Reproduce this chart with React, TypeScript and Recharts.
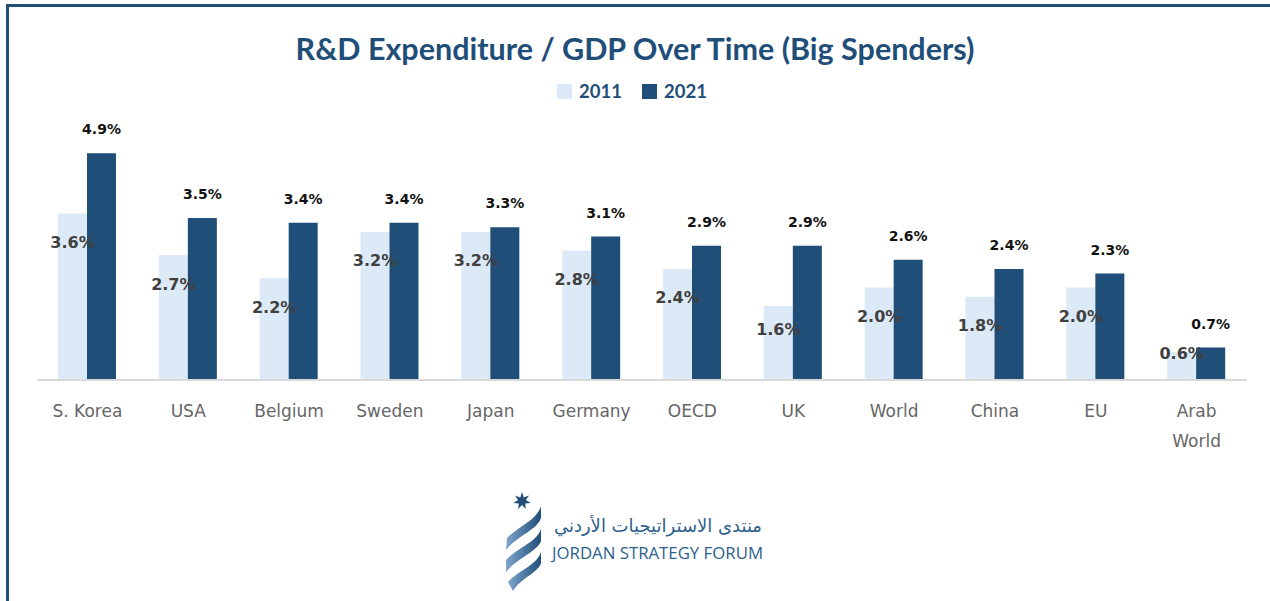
import { BarChart, Bar, XAxis, YAxis, LabelList } from "recharts";

const categories = ["S. Korea", "USA", "Belgium", "Sweden", "Japan", "Germany", "OECD", "UK", "World", "China", "EU", "Arab\nWorld"];
const values2011 = [3.6, 2.7, 2.2, 3.2, 3.2, 2.8, 2.4, 1.6, 2.0, 1.8, 2.0, 0.6];
const values2021 = [4.9, 3.5, 3.4, 3.4, 3.3, 3.1, 2.9, 2.9, 2.6, 2.4, 2.3, 0.7];
const seriesNames = ["2011", "2021"];

const data = categories.map((name, i) => ({ name, y2011: values2011[i], y2021: values2021[i] }));

const DARK = "#1f4e79";
const LIGHT = "#dce9f6";

const CatTick = ({ x, y, payload }: any) => {
  const lines = String(payload.value).split("\n");
  return (
    <text x={x} y={y} textAnchor="middle" fontFamily="DejaVu Sans" fontSize={17} fill="#666">
      {lines.map((l, i) => (
        <tspan key={i} x={x} dy={i === 0 ? 29 : 30}>
          {l}
        </tspan>
      ))}
    </text>
  );
};

// 2011 labels sit inside the bar, near its top
const InsideLabel = ({ x, y, width, height, value }: any) => (
  <text
    x={x + width / 2}
    y={y + Math.min(29, height / 2 - 13)}
    textAnchor="middle"
    dominantBaseline="central"
    fontFamily="DejaVu Sans"
    fontWeight="bold"
    fontSize={16}
    fill="#404040"
  >
    {Number(value).toFixed(1)}%
  </text>
);

const TopLabel = ({ x, y, width, value }: any) => (
  <text
    x={x + width / 2}
    y={y - 24}
    textAnchor="middle"
    dominantBaseline="central"
    fontFamily="DejaVu Sans"
    fontWeight="bold"
    fontSize={14}
    fill="#111"
  >
    {Number(value).toFixed(1)}%
  </text>
);

const Logo = () => (
  <svg width={300} height={110} style={{ position: "absolute", left: 495, top: 490 }}>
    <defs>
      <linearGradient id="rib" x1="0" y1="0" x2="1" y2="0">
        <stop offset="0%" stopColor="#7fa6cc" />
        <stop offset="100%" stopColor="#1f4e79" />
      </linearGradient>
    </defs>
    <polygon
      points={Array.from({ length: 14 }, (_, k) => {
        const r = k % 2 === 0 ? 9 : 4;
        const a = (Math.PI * k) / 7 - Math.PI / 2;
        return `${27 + r * Math.cos(a)},${11 + r * Math.sin(a)}`;
      }).join(" ")}
      fill={DARK}
    />
    <path d="M46 16 C42 30 24 36 12 48 L11 60 C22 46 42 40 46 28 Z" fill="url(#rib)" />
    <path d="M46 39 C42 52 22 58 11 70 L11 82 C22 68 42 62 46 51 Z" fill="url(#rib)" />
    <path d="M46 62 C42 75 24 80 13 92 L18 101 C26 88 44 82 46 73 Z" fill="url(#rib)" />
    <text x={267} y={42} textAnchor="end" fontFamily="DejaVu Sans" fontSize={18} fill="#2d5f8d">
      منتدى الاستراتيجيات الأردني
    </text>
    <text x={57} y={69} fontFamily="Open Sans" fontSize={17} fill="#2d5f8d" textLength={211} lengthAdjust="spacingAndGlyphs">
      JORDAN STRATEGY FORUM
    </text>
  </svg>
);

export default function App() {
  return (
    <div style={{ position: "absolute", left: 0, top: 0, width: 1270, height: 601, background: "#fff", overflow: "hidden" }}>
      <div style={{ position: "absolute", left: 6, top: 4, right: -10, bottom: -10, borderTop: `3px solid ${DARK}`, borderLeft: `3px solid ${DARK}` }} />
      <div
        style={{
          position: "absolute",
          top: 30,
          left: 0,
          width: 1270,
          textAlign: "center",
          fontFamily: "Lato, sans-serif",
          fontWeight: "bold",
          fontSize: 30.5,
          lineHeight: "36px",
          color: DARK,
        }}
      >
        R&amp;D Expenditure / GDP Over Time (Big Spenders)
      </div>
      <div
        style={{
          position: "absolute",
          top: 79,
          left: -3,
          width: 1270,
          display: "flex",
          justifyContent: "center",
          gap: 20,
          fontFamily: "Lato, sans-serif",
          fontWeight: "bold",
          fontSize: 18.5,
          lineHeight: "24px",
          color: DARK,
        }}
      >
        {seriesNames.map((s, i) => (
          <span key={s} style={{ display: "flex", alignItems: "center", gap: 7 }}>
            <span style={{ display: "inline-block", width: 15, height: 15, background: i === 0 ? LIGHT : DARK }} />
            {s}
          </span>
        ))}
      </div>
      <div style={{ position: "absolute", left: 0, top: 0 }}>
        <BarChart
          width={1270}
          height={601}
          data={data}
          barGap={0}
          barSize={29}
          margin={{ top: 148.7, right: 23, bottom: 181, left: 37 }}
        >
          <XAxis
            dataKey="name"
            interval={0}
            height={40}
            tickLine={false}
            axisLine={{ stroke: "#d9d9d9", strokeWidth: 2 }}
            tick={<CatTick />}
          />
          <YAxis hide width={0} domain={[0, 5]} />
          <Bar dataKey="y2011" name={seriesNames[0]} fill={LIGHT} isAnimationActive={false}>
            <LabelList dataKey="y2011" content={<InsideLabel />} />
          </Bar>
          <Bar dataKey="y2021" name={seriesNames[1]} fill={DARK} isAnimationActive={false}>
            <LabelList dataKey="y2021" content={<TopLabel />} />
          </Bar>
        </BarChart>
      </div>
      <Logo />
    </div>
  );
}
